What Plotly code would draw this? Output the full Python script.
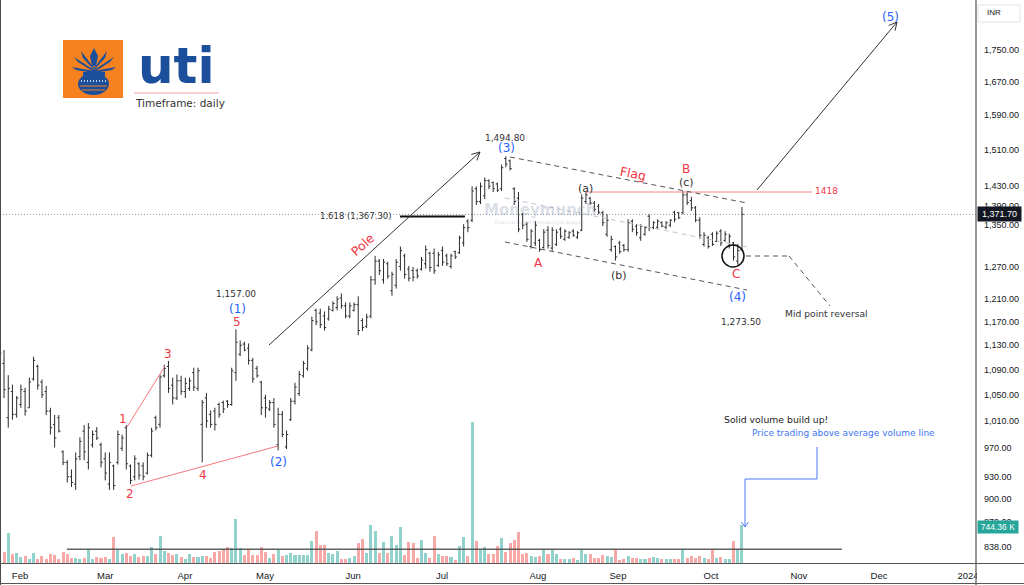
import math
import plotly.graph_objects as go

# ---------------- data ----------------
bar_index = list(range(177))
opens = [1125,1100,1015,1055,1020,1035,1055,1030,1075,1095,1070,1055,1025,1005,1015,965,950,930,920,958,
         995,950,975,995,975,955,920,945,950,970,1000,945,930,948,945,935,960,1015,1005,1080,
         1095,1065,1045,1072,1055,1060,1085,1060,1005,1045,1020,1025,1035,1038,1040,1035,1085,1115,1132,1125,
         1105,1092,1070,1045,1028,1038,975,1020,972,1012,1040,1052,1080,1092,1122,1190,1185,1180,1175,1190,
         1195,1212,1198,1180,1190,1200,1172,1162,1180,1245,1280,1245,1275,1225,1235,1270,1290,1265,1262,1262,
         1265,1275,1295,1295,1272,1300,1290,1270,1298,1296,1315,1358,1360,1425,1398,1410,1442,1438,1435,1425,
         1490,1485,1425,1405,1372,1352,1308,1315,1320,1306,1340,1305,1312,1342,1322,1326,1338,1326,1340,1398,
         1405,1395,1388,1375,1332,1302,1308,1315,1310,1302,1358,1348,1325,1332,1368,1345,1346,1355,1346,1350,
         1376,1375,1375,1412,1400,1385,1360,1312,1325,1332,1318,1338,1320,1308,1315,1280,1302]
highs = [1128,1122,1081,1066,1048,1066,1061,1077,1111,1098,1074,1064,1030,1019,1019,967,953,940,964,986,
         1004,1007,996,1001,978,964,964,947,996,990,1004,947,960,950,950,964,1000,1018,1082,1098,
         1104,1077,1082,1080,1077,1077,1093,1093,1042,1053,1026,1030,1038,1041,1042,1093,1157,1138,1136,1133,
         1109,1096,1072,1050,1042,1045,1030,1025,996,1045,1069,1088,1104,1130,1179,1193,1193,1188,1198,1206,
         1215,1220,1204,1204,1204,1215,1176,1184,1252,1290,1284,1284,1279,1260,1284,1308,1294,1271,1269,1266,
         1288,1310,1298,1304,1298,1308,1294,1294,1300,1329,1352,1362,1430,1430,1438,1449,1445,1440,1438,1477,
         1494.8,1488,1428,1418,1375,1356,1342,1358,1323,1342,1348,1346,1342,1346,1342,1338,1342,1338,1413,1418,
         1408,1399,1393,1379,1372,1329,1310,1319,1313,1362,1362,1352,1352,1348,1372,1358,1362,1358,1358,1362,
         1379,1377,1420,1418,1408,1389,1366,1336,1329,1336,1338,1342,1338,1333,1317,1313,1387]
lows = [1100,1045,1000,1012,1015,1030,1018,1030,1072,1058,1045,1019,990,971,993,946,922,916,912,953,
        953,940,971,982,943,925,912,912,947,966,940,920,925,926,925,933,957,996,1000,1077,
        1053,1035,1042,1050,1045,1056,1056,1056,950,1000,1000,996,1015,1022,1030,1033,1072,1112,1120,1098,
        1069,1077,1019,1015,1025,1000,967,986,969,1010,1035,1048,1077,1088,1120,1164,1159,1155,1172,1188,
        1190,1193,1176,1176,1188,1147,1154,1159,1176,1236,1254,1238,1247,1216,1229,1262,1247,1242,1242,1247,
        1262,1266,1260,1256,1269,1271,1271,1266,1284,1294,1308,1336,1356,1391,1393,1403,1424,1418,1418,1420,
        1471,1464,1391,1336,1342,1317,1304,1309,1298,1304,1304,1300,1309,1323,1319,1323,1327,1323,1338,1393,
        1391,1377,1372,1348,1327,1298,1281,1294,1298,1298,1336,1329,1319,1329,1338,1342,1342,1346,1342,1346,
        1356,1362,1372,1391,1379,1356,1323,1308,1304,1309,1317,1309,1317,1304,1281,1273.5,1300]
closes = [1117,1058,1060,1020,1045,1058,1025,1070,1105,1065,1050,1025,1000,985,995,950,930,922,955,980,
          965,1000,990,985,950,935,950,918,990,985,948,925,955,932,930,960,995,1000,1078,1092,
          1060,1045,1072,1055,1068,1072,1062,1088,1038,1010,1005,1005,1020,1028,1035,1088,1135,1130,1122,1105,
          1075,1080,1030,1030,1038,1005,1020,990,990,1040,1062,1082,1100,1125,1172,1170,1165,1160,1192,1202,
          1210,1198,1180,1198,1200,1155,1160,1178,1245,1280,1262,1278,1252,1255,1278,1300,1255,1248,1250,1252,
          1282,1302,1268,1262,1292,1278,1275,1290,1288,1325,1345,1345,1420,1398,1430,1442,1430,1425,1422,1470,
          1478,1468,1398,1342,1350,1322,1338,1350,1302,1336,1310,1340,1336,1328,1338,1335,1330,1335,1405,1412,
          1395,1382,1376,1355,1360,1322,1288,1298,1302,1355,1342,1335,1348,1345,1345,1355,1358,1348,1355,1360,
          1362,1365,1412,1396,1385,1360,1330,1330,1308,1312,1334,1315,1332,1328,1288,1300,1371.7]
volume_k = [217,217,592,184,197,118,138,86,204,86,132,86,184,165,86,217,184,105,99,86,
            99,283,86,118,105,118,72,513,263,171,204,132,184,118,132,138,316,171,533,230,
            197,165,184,118,86,171,118,118,132,138,99,217,230,270,316,296,862,296,151,283,
            165,165,316,217,99,184,263,132,165,197,151,165,151,151,428,625,362,349,204,184,
            230,86,86,99,132,395,481,197,744,625,197,415,197,527,349,711,165,415,402,99,
            461,204,99,533,184,132,132,118,66,336,513,132,2785,428,250,316,184,184,336,494,
            217,402,448,612,184,204,138,118,138,270,184,250,184,72,86,72,99,53,250,184,
            171,99,105,151,138,118,270,66,72,132,105,99,86,86,99,118,105,72,86,86,
            72,72,270,99,132,105,138,99,86,270,105,118,86,86,434,283,744.36]

month_labels = ["Feb", "Mar", "Apr", "May", "Jun", "Jul", "Aug", "Sep", "Oct", "Nov", "Dec", "2024"]
month_pos = [4.8, 25.0, 43.9, 62.9, 83.8, 104.9, 127.6, 146.6, 168.65, 189.5, 208.5, 229.6]
price_ticks = [1750, 1670, 1590, 1510, 1430, 1390, 1350, 1270, 1210, 1170, 1130, 1090,
               1050, 1010, 970, 930, 900, 870, 838]
last_close = 1371.70
last_volume_k = 744.36
fib_level = 1367.30
resistance_level = 1418
avg_volume_k = 270

# ---------------- layout geometry ----------------
W, H = 1024, 585
PW, PH = 976, 563          # plot area (px)
X_RANGE = [0.047, 231.5]
Y_RANGE = [math.log10(818.4), math.log10(1884.6)]
VOL_MAX = 11116

def px(x):
    return x / PW

def py(y):
    return 1 - y / PH

shapes = []
annotations = []

def line(x0, y0, x1, y1, color="#333333", width=1, dash="solid", layer="above"):
    shapes.append(dict(type="line", xref="paper", yref="paper",
                       x0=px(x0), y0=py(y0), x1=px(x1), y1=py(y1),
                       line=dict(color=color, width=width, dash=dash), layer=layer))

def vhead(x0, y0, x1, y1, color, length=9, ang=27, width=1):
    dx, dy = x1 - x0, y1 - y0
    d = math.hypot(dx, dy)
    vx, vy = -dx / d, -dy / d
    for s in (1, -1):
        a = math.radians(ang) * s
        rx = vx * math.cos(a) - vy * math.sin(a)
        ry = vx * math.sin(a) + vy * math.cos(a)
        line(x1, y1, x1 + rx * length, y1 + ry * length, color, width)

def poly(points, fill, line_color=None):
    path = "M " + " L ".join(f"{px(x):.5f},{py(y):.5f}" for x, y in points) + " Z"
    shapes.append(dict(type="path", xref="paper", yref="paper", path=path,
                       fillcolor=fill, line=dict(width=0 if line_color is None else 1,
                                                 color=line_color or fill), layer="above"))

def rect(x0, y0, x1, y1, fill, line_color=None, lw=0):
    shapes.append(dict(type="rect", xref="paper", yref="paper",
                       x0=px(x0), y0=py(y0), x1=px(x1), y1=py(y1),
                       fillcolor=fill, line=dict(color=line_color or fill, width=lw), layer="above"))

def txt(s, x, y, size=9.5, color="#333333", xanchor="center", angle=0, family="DejaVu Sans",
        yanchor="middle", **kw):
    annotations.append(dict(text=s, x=px(x), y=py(y), xref="paper", yref="paper",
                            showarrow=False, xanchor=xanchor, yanchor=yanchor, textangle=angle,
                            font=dict(family=family, size=size, color=color), **kw))

RED = "#f23645"
BLUE = "#2962ff"
DARK = "#333333"

# ---------------- traces ----------------
vol_colors = ["rgba(38,166,154,0.5)" if c >= o else "rgba(239,83,80,0.5)"
              for o, c in zip(opens, closes)]

fig = go.Figure()
fig.add_trace(go.Bar(x=bar_index, y=volume_k, yaxis="y2", marker=dict(color=vol_colors, line=dict(width=0)),
                     width=0.72, hoverinfo="skip", showlegend=False))
fig.add_trace(go.Ohlc(x=bar_index, open=opens, high=highs, low=lows, close=closes,
                      increasing=dict(line=dict(color="#2b2b2b", width=1)),
                      decreasing=dict(line=dict(color="#2b2b2b", width=1)),
                      tickwidth=0.4, showlegend=False, hoverinfo="skip"))

# ---------------- data-referenced lines ----------------
shapes.append(dict(type="line", xref="paper", yref="y", x0=0, x1=1, y0=last_close, y1=last_close,
                   line=dict(color="#8a8e99", width=1, dash="1px,2px"), layer="below"))
shapes.append(dict(type="line", xref="x", yref="y", x0=94.9, x1=110.3, y0=fib_level, y1=fib_level,
                   line=dict(color="#111111", width=2), layer="above"))
shapes.append(dict(type="line", xref="x", yref="y", x0=138.8, x1=192.6, y0=resistance_level, y1=resistance_level,
                   line=dict(color="#f7868a", width=1), layer="above"))
shapes.append(dict(type="line", xref="x", yref="y2", x0=15.9, x1=199.7, y0=avg_volume_k, y1=avg_volume_k,
                   line=dict(color="rgba(70,70,70,0.85)", width=1.5), layer="above"))

# ---------------- drawings ----------------
# elliott wave lines
line(127, 427, 165, 366, "#f7787c")
line(131, 486, 278, 446, "#f7787c")
# pole arrow
line(269, 345, 480, 152, DARK)
vhead(269, 345, 480, 152, DARK)
# flag channel
line(510, 157, 747, 203, "#555555", 1, "5px,4px")
line(505, 242, 747, 290, "#555555", 1, "5px,4px")
line(505, 198, 747, 247, "#c3c6ce", 1, "5px,4px")
# circle around the C low
shapes.append(dict(type="circle", xref="paper", yref="paper", x0=px(722), x1=px(744), y0=py(245), y1=py(267),
                   line=dict(color="#111111", width=1.5), layer="above"))
# mid point reversal pointer
line(746, 256, 789, 256, "#555555", 1, "5px,4px")
line(789, 256, 830, 306, "#555555", 1, "5px,4px")
# arrow to (5)
line(757, 190, 897, 22, DARK)
vhead(757, 190, 897, 22, DARK)
# blue elbow arrow to the volume bar
EB = "#4d79f6"
line(817, 447, 817, 479, EB)
line(817, 479, 745, 479, EB)
line(745, 479, 745, 527, EB)
vhead(745, 479, 745, 527, EB, length=6, ang=35)

# ---------------- logo ----------------
rect(63, 40, 123, 98, "#f6821f")
LB = "#1b4f9c"
shapes.append(dict(type="circle", xref="paper", yref="paper", x0=px(78), x1=px(109), y0=py(73), y1=py(95),
                   fillcolor=LB, line=dict(width=0), layer="above"))
rect(83, 72, 105, 76, LB)
line(81, 81, 107, 81, "#ffffff", 1.5, "1px,2px")
line(80, 86, 107, 86, "#f6821f", 1)
line(82, 90, 105, 90, "#f6821f", 1)
poly([(94, 48), (98, 56), (96, 66), (92, 66), (90, 56)], LB)
for sgn in (1, -1):
    c = 94
    poly([(c, 70), (c - sgn * 20, 57), (c - sgn * 16, 62), (c, 72)], LB)
    poly([(c, 68), (c - sgn * 13, 51), (c - sgn * 11, 58), (c, 70)], LB)
    poly([(c, 71), (c - sgn * 22, 67), (c - sgn * 18, 70), (c, 73)], LB)
txt("<b>uti</b>", 176, 96, 50, "#1b4f9c", yanchor="bottom", borderpad=0)
line(134, 93, 219, 93, "#f4a0a0", 1)
txt("Timeframe: daily", 133, 103, 10.5, DARK, xanchor="left")

# ---------------- labels ----------------
txt("1,494.80", 505, 138, 9)
txt("(3)", 506, 148, 12, BLUE)
txt("1,157.00", 236, 294, 9)
txt("(1)", 237, 309, 12, BLUE)
txt("5", 237, 322, 12, RED)
txt("1", 123, 419, 12, RED)
txt("3", 168, 354, 12, RED)
txt("2", 130, 494, 12, RED)
txt("4", 203, 475, 12, RED)
txt("(2)", 278, 462, 12, BLUE)
txt("Pole", 363, 245, 12.5, RED, angle=-42)
txt("1.618 (1,367.30)", 394, 216, 8.5, DARK, xanchor="right")
txt("Flag", 633, 173, 12.5, RED, angle=11)
txt("B", 686, 169, 12, RED)
txt("(c)", 686, 183, 11, DARK)
txt("(a)", 585, 188, 11, DARK)
txt("1418", 813, 191, 9, RED, xanchor="left")
txt("A", 538, 263, 12, RED)
txt("(b)", 619, 275, 11, DARK)
txt("C", 736, 274, 12, RED)
txt("(4)", 737, 297, 12, BLUE)
txt("Mid point reversal", 826, 313, 9.2, DARK)
txt("1,273.50", 741, 322, 9)
txt("(5)", 890, 17, 12, BLUE)
txt("Solid volume build up!", 776, 419, 9.3, "#222222")
txt("Price trading above average volume line", 843, 433, 9.0, "#3d74f5")
# watermark
txt("<b>Moneymunch</b>", 540, 210, 15, "rgba(150,162,185,0.35)")
txt("Financial Market Forecasting & Analysis", 540, 222, 4.5, "rgba(150,162,185,0.45)")

# ---------------- frame / axis decorations ----------------
rect(977, 565, 1024, 582, "#ffffff")       # clips the "2024" label like the reference
line(0, 0, 0, 585, "#4a4a4a", 2)
line(976, 0, 976, 585, "#555555", 1.2)
line(0, 563.5, 1024, 563.5, "#555555", 1.2)
line(0, 583.5, 1024, 583.5, "#555555", 1.2)
rect(978, 5, 1020, 22, "rgba(0,0,0,0)", "#e0e3eb", 1)
txt("INR", 985, 13, 8, "#131722", xanchor="left", family="Liberation Sans")
annotations.append(dict(text=f"{last_close:,.2f}", x=px(977), y=py(214), xref="paper", yref="paper",
                        showarrow=False, xanchor="left", yanchor="middle", bgcolor="#131722",
                        width=40, height=11, borderpad=1.5,
                        font=dict(family="Liberation Sans", size=9, color="#ffffff")))
annotations.append(dict(text=f"{last_volume_k:.2f} K", x=px(977), y=py(527), xref="paper", yref="paper",
                        showarrow=False, xanchor="left", yanchor="middle", bgcolor="#26a69a",
                        width=38, height=10, borderpad=1,
                        font=dict(family="Liberation Sans", size=8.5, color="#ffffff")))

fig.update_layout(
    width=W, height=H,
    margin=dict(l=0, r=W - PW, t=0, b=H - PH),
    paper_bgcolor="#ffffff", plot_bgcolor="#ffffff",
    showlegend=False, hovermode=False,
    bargap=0,
    xaxis=dict(range=X_RANGE, tickmode="array", tickvals=month_pos, ticktext=month_labels,
               showgrid=False, zeroline=False, showline=False, ticks="",
               tickfont=dict(family="Liberation Sans", size=9.5, color="#131722"),
               ticklabelstandoff=5, rangeslider=dict(visible=False), fixedrange=True),
    yaxis=dict(type="log", range=Y_RANGE, side="right", tickmode="array", tickvals=price_ticks,
               ticktext=[f"{v:,.2f}" for v in price_ticks], showgrid=False, zeroline=False,
               showline=False, ticks="", tickfont=dict(family="Liberation Sans", size=9, color="#131722"),
               ticklabelstandoff=7, fixedrange=True),
    yaxis2=dict(overlaying="y", range=[0, VOL_MAX], visible=False, fixedrange=True),
    shapes=shapes,
    annotations=annotations,
)

fig.write_html("out.html")
